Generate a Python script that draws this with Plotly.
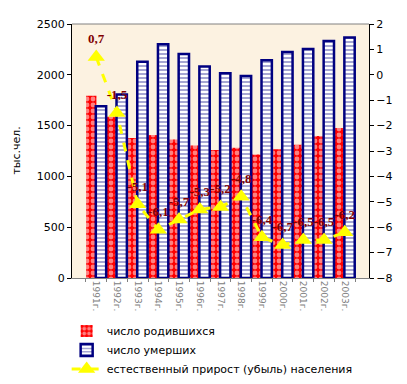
import plotly.graph_objects as go

years = ["1991г.", "1992г.", "1993г.", "1994г.", "1995г.", "1996г.", "1997г.",
         "1998г.", "1999г.", "2000г.", "2001г.", "2002г.", "2003г."]
births = [1795, 1588, 1379, 1408, 1364, 1305, 1260, 1283, 1215, 1267, 1312, 1397, 1477]
deaths = [1691, 1807, 2129, 2301, 2204, 2082, 2016, 1989, 2144, 2225, 2255, 2332, 2366]
growth = [0.7, -1.5, -5.1, -6.1, -5.7, -5.3, -5.2, -4.8, -6.4, -6.7, -6.5, -6.5, -6.2]
growth_labels = [f"{v:.1f}".replace(".", ",") for v in growth]

font_main = "DejaVu Sans"

fig = go.Figure()
fig.add_trace(go.Bar(
    x=years, y=births, name="число родившихся",
    width=0.5, offset=-0.49,
    marker=dict(color="#FF0000", line=dict(width=0),
                pattern=dict(shape=".", fgcolor="#FFFFFF", bgcolor="#FF0000",
                             size=6, solidity=0.5)),
))
fig.add_trace(go.Bar(
    x=years, y=deaths, name="число умерших",
    width=0.5, offset=-0.02,
    marker=dict(color="#FFFFFF", line=dict(width=2.5, color="#000080"),
                pattern=dict(shape="-", fgcolor="#000080", bgcolor="#FFFFFF",
                             size=4, solidity=0.35)),
))
fig.add_trace(go.Scatter(
    x=years, y=growth, name="естественный прирост (убыль) населения",
    yaxis="y2", mode="lines+markers+text",
    line=dict(color="#FFFF00", width=3, dash="dash"),
    marker=dict(symbol="triangle-up", size=15, color="#FFFF00"),
    text=growth_labels, textposition="top center",
    textfont=dict(family="Liberation Serif", size=13, color="#800000", weight="bold"),
    cliponaxis=False,
))

fig.update_layout(
    width=399, height=376,
    margin=dict(l=64, r=38, t=16, b=106, autoexpand=False),
    paper_bgcolor="#FFFFFF",
    plot_bgcolor="#FCF2E1",
    barmode="overlay",
    font=dict(family=font_main, size=11, color="#000000"),
    showlegend=True,
    legend=dict(x=-0.018, y=-0.152, xanchor="left", yanchor="top",
                font=dict(family=font_main, size=11, color="#000000"),
                bgcolor="rgba(0,0,0,0)", tracegroupgap=0),
    xaxis=dict(type="category", tickangle=90, tickson="boundaries",
               ticks="outside", ticklen=3, tickcolor="#808080",
               tickfont=dict(family=font_main, size=9, color="#808080"),
               showline=True, linecolor="#808080", linewidth=1,
               showgrid=False, automargin=False),
    yaxis=dict(range=[0, 2500], dtick=500, ticks="outside", ticklen=4,
               tickcolor="#000000", showline=True, linecolor="#000000",
               linewidth=1, showgrid=False, zeroline=False,
               tickfont=dict(size=11), automargin=False),
    yaxis2=dict(range=[-8, 2], dtick=1, overlaying="y", side="right",
                ticks="outside", ticklen=4, tickcolor="#000000",
                showline=True, linecolor="#000000", linewidth=1,
                showgrid=False, zeroline=False, tickfont=dict(size=11),
                automargin=False),
    shapes=[dict(type="line", xref="paper", yref="paper", x0=0, x1=1, y0=1, y1=1,
                 line=dict(color="#808080", width=1))],
    annotations=[dict(text="тыс.чел.", xref="paper", yref="paper",
                      x=-0.19, y=0.5, textangle=-90, showarrow=False,
                      xanchor="center", yanchor="middle",
                      font=dict(family=font_main, size=11, color="#000000"))],
)

fig.write_html("out.html")
